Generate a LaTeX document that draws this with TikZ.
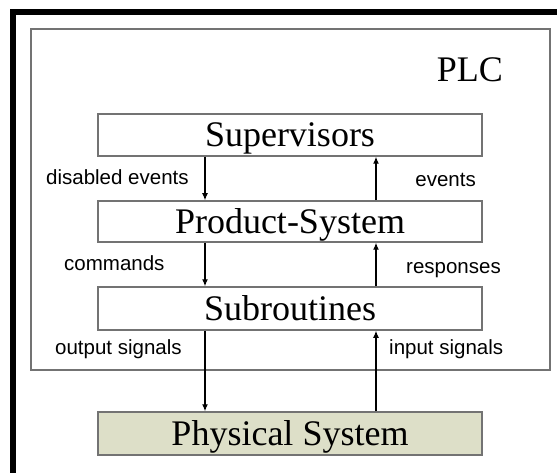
\documentclass[tikz,border=0pt]{standalone}
\usepackage{fontspec}
\setmainfont{Liberation Serif}
\newfontfamily\labelfont{Liberation Sans}
\usetikzlibrary{arrows.meta}
\definecolor{boxgray}{RGB}{115,115,115}
\definecolor{physfill}{RGB}{221,223,200}
\tikzset{
  layerbox/.style={draw=boxgray, line width=1.5pt, rectangle, inner sep=0pt,
    minimum width=384pt, font=\fontsize{36}{40}\selectfont, text height=24pt, text depth=0pt},
  sig/.style={inner sep=0pt, font=\labelfont\fontsize{20.5}{24}\selectfont},
  arr/.style={line width=1.1pt, -{Latex[length=7pt,width=6pt]}}
}
\begin{document}
\begin{tikzpicture}[x=1pt,y=-1pt]
\useasboundingbox (0,0) rectangle (557,473);
% black frame (left and top)
\fill[black] (10,9) rectangle (16,473);
\fill[black] (10,9) rectangle (557,15);
% PLC container
\node[draw=boxgray, line width=1.5pt, rectangle, inner sep=0pt,
  minimum width=519pt, minimum height=341pt] (plc) at (290.5,199.5) {};
\node[anchor=base east, inner sep=0pt, font=\fontsize{36}{40}\selectfont] (plclabel) at (503,82) {PLC};
% layers
\node[layerbox, minimum height=42pt] (sup) at (290,135) {Supervisors};
\node[layerbox, minimum height=41pt] (prod) at (290,221.5) {Product-System};
\node[layerbox, minimum height=43pt] (sub) at (290,308.5) {Subroutines};
\node[layerbox, minimum height=43pt, fill=physfill] (phys) at (290,433.5) {Physical System};
% arrow columns
\coordinate (dn) at (205,0);
\coordinate (up) at (376,0);
\draw[arr] (sup.south -| dn) -- (prod.north -| dn);
\draw[arr] (prod.south -| dn) -- (sub.north -| dn);
\draw[arr] (sub.south -| dn) -- (phys.north -| dn);
\draw[arr] (prod.north -| up) -- (sup.south -| up);
\draw[arr] (sub.north -| up) -- (prod.south -| up);
\draw[arr] (phys.north -| up) -- (sub.south -| up);
% labels
\node[sig, anchor=base west] (l1) at (46,185) {disabled events};
\node[sig, anchor=base east] (l2) at (476,187) {events};
\node[sig, anchor=base west] (l3) at (64,270.5) {commands};
\node[sig, anchor=base east] (l4) at (501,273.5) {responses};
\node[sig, anchor=base west] (l5) at (55,354) {output signals};
\node[sig, anchor=base west] (l6) at (389,354) {input signals};
\end{tikzpicture}
\end{document}
